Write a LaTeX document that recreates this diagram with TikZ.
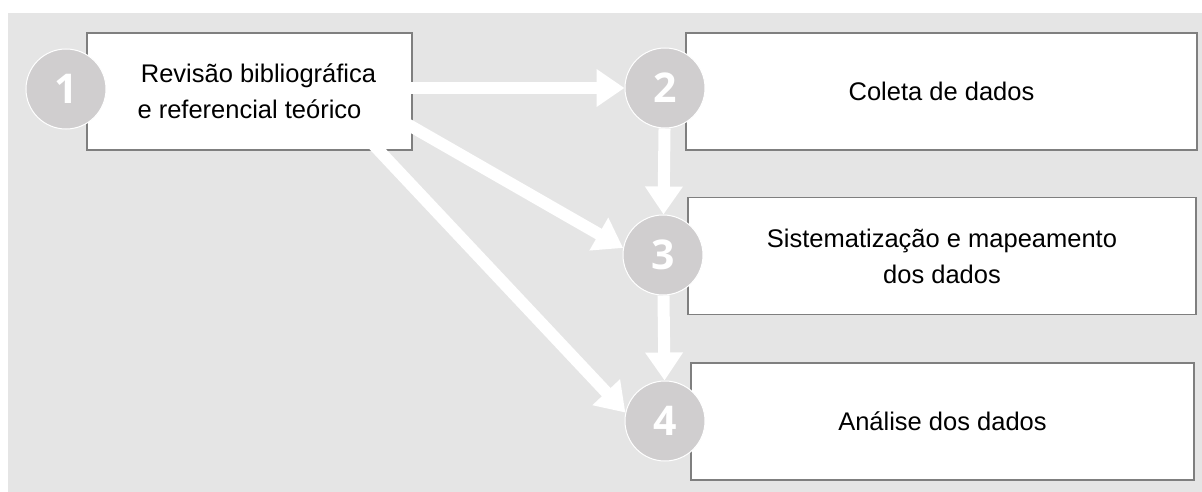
\documentclass[tikz,border=0pt]{standalone}
\usepackage{fontspec}
\setmainfont{Liberation Sans}
\newfontfamily\numfont{Open Sans}
\usetikzlibrary{arrows.meta}
\definecolor{bggray}{HTML}{E5E5E5}
\definecolor{numgray}{HTML}{D0CECF}
\definecolor{boxline}{HTML}{7F7F7F}

\begin{document}
\begin{tikzpicture}[x=1pt, y=-1pt,
      every node/.append style={font=\fontsize{25.5}{36}\selectfont},
      flow/.style={-{Triangle[width=36pt,length=28pt]}, line width=12pt, draw=white}]
    \tikzstyle{stage} = [draw=boxline, line width=1.3pt, fill=white, minimum height=117pt, align=center, inner sep=0pt]
    \tikzstyle{num} = [circle, fill=numgray, draw=white, line width=1pt, minimum size=80pt, inner sep=0pt,
      text=white, font=\numfont\bfseries\fontsize{41}{41}\selectfont]
    \useasboundingbox (0,0) rectangle (1202,492);
    \fill[bggray] (8,13) rectangle (1202,492);
    \node (rev) [stage, minimum width=325pt] at (249.5,91.5) {\hspace*{18pt}Revisão bibliográfica\\e referencial teórico};
    \node (col) [stage, minimum width=511pt] at (941.5,91.5) {Coleta de dados};
    \node (sis) [stage, minimum width=508pt] at (942,256) {Sistematização e mapeamento\\dos dados};
    \node (ana) [stage, minimum width=503pt] at (942.5,421.5) {Análise dos dados};
    \node (n1) [num] at (66,89) {1};
    \node (n2) [num] at (665,88) {2};
    \node (n3) [num] at (663,255) {3};
    \node (n4) [num] at (665,421) {4};
    \coordinate (to2) at (rev.east |- n2.west);
    \coordinate (to3) at ([xshift=-10pt,yshift=-30pt]rev.east);
    \coordinate (to4) at ([xshift=-42pt,yshift=9pt]rev.south east);
    \draw [flow] ([xshift=-12pt]to2) -- (n2.west);
    \draw [flow] (to3) -- (n3.170);
    \draw [flow] (to4) -- (n4.168);
    \draw [flow] (n2) -- (n3);
    \draw [flow] (n3) -- (n4);
\end{tikzpicture}
\end{document}
